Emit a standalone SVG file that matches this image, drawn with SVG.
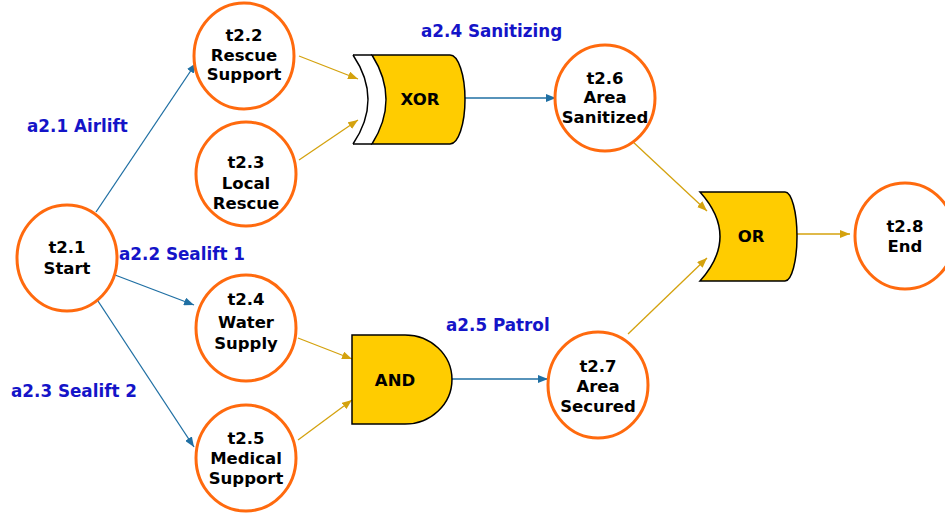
<svg xmlns="http://www.w3.org/2000/svg" width="945" height="515" viewBox="0 0 945 515">
<style>
.node ellipse{fill:#fff;stroke:#FF6A0E;stroke-width:3}
.nt{font-family:"DejaVu Sans",Verdana,sans-serif;font-weight:bold;font-size:16.5px;fill:#000;text-anchor:middle}
.lbl{font-family:"DejaVu Sans",Verdana,sans-serif;font-weight:bold;font-size:16.8px;fill:#1414C8}
.gate path{fill:#FFCC00;stroke:#000;stroke-width:1.5}
.blue{stroke:#1F6FA3;stroke-width:1.3;fill:none;marker-end:url(#ab)}
.gold{stroke:#D4A20E;stroke-width:1.3;fill:none;marker-end:url(#ag)}
</style>
<defs>
<marker id="ab" markerUnits="userSpaceOnUse" markerWidth="11" markerHeight="8" refX="10" refY="4" orient="auto"><path d="M0,0 L10,4 L0,8 z" fill="#1F6FA3"/></marker>
<marker id="ag" markerUnits="userSpaceOnUse" markerWidth="11" markerHeight="8" refX="10" refY="4" orient="auto"><path d="M0,0 L10,4 L0,8 z" fill="#D4A20E"/></marker>
</defs>
<rect width="945" height="515" fill="#fff"/>
<g id="connectors">
<path class="blue" d="M96 212 L196 63"/>
<path class="blue" d="M115 275 L194 305"/>
<path class="blue" d="M96 298 L194 447"/>
<path class="blue" d="M465 98 L556 98"/>
<path class="blue" d="M452 379 L548 379"/>
<path class="gold" d="M299 56 L358 79"/>
<path class="gold" d="M299 160 L358 120"/>
<path class="gold" d="M298 338 L352 359"/>
<path class="gold" d="M298 440 L352 400"/>
<path class="gold" d="M632 141 L707 211"/>
<path class="gold" d="M628 334 L707 258"/>
<path class="gold" d="M797 234 L850 234"/>
</g>
<g id="labels">
<text class="lbl" x="27" y="132">a2.1 Airlift</text>
<text class="lbl" x="119" y="260">a2.2 Sealift 1</text>
<text class="lbl" x="11" y="397">a2.3 Sealift 2</text>
<text class="lbl" x="421" y="37">a2.4 Sanitizing</text>
<text class="lbl" x="446" y="331">a2.5 Patrol</text>
</g>
<g id="t2.1" class="node"><ellipse cx="67" cy="258" rx="50" ry="53"/><text class="nt" x="67" y="253">t2.1</text><text class="nt" x="67" y="274">Start</text></g>
<g id="t2.2" class="node"><ellipse cx="244" cy="56" rx="50" ry="53"/><text class="nt" x="244" y="41">t2.2</text><text class="nt" x="244" y="61">Rescue</text><text class="nt" x="244" y="80">Support</text></g>
<g id="t2.3" class="node"><ellipse cx="246" cy="174" rx="50" ry="52"/><text class="nt" x="246" y="168">t2.3</text><text class="nt" x="246" y="189">Local</text><text class="nt" x="246" y="209">Rescue</text></g>
<g id="t2.4" class="node"><ellipse cx="246" cy="328" rx="50" ry="53"/><text class="nt" x="246" y="305">t2.4</text><text class="nt" x="246" y="328">Water</text><text class="nt" x="246" y="349">Supply</text></g>
<g id="t2.5" class="node"><ellipse cx="246" cy="458" rx="50" ry="53"/><text class="nt" x="246" y="444">t2.5</text><text class="nt" x="246" y="464">Medical</text><text class="nt" x="246" y="484">Support</text></g>
<g id="t2.6" class="node"><ellipse cx="605" cy="98" rx="50" ry="53"/><text class="nt" x="605" y="84">t2.6</text><text class="nt" x="605" y="103">Area</text><text class="nt" x="605" y="123">Sanitized</text></g>
<g id="t2.7" class="node"><ellipse cx="598" cy="385" rx="50" ry="53"/><text class="nt" x="598" y="372">t2.7</text><text class="nt" x="598" y="392">Area</text><text class="nt" x="598" y="412">Secured</text></g>
<g id="t2.8" class="node"><ellipse cx="905" cy="236" rx="50" ry="53"/><text class="nt" x="905" y="232">t2.8</text><text class="nt" x="905" y="252">End</text></g>
<g id="xor" class="gate">
<path d="M353 55 Q383 99.5 353 144" style="fill:none"/>
<path d="M372 55 H450 A15 44.5 0 0 1 450 144 H372 Q400 99.5 372 55 Z"/>
<path d="M353 55 H372 M353 144 H372" style="fill:none"/>
<text class="nt" x="420" y="105">XOR</text>
</g>
<g id="and" class="gate">
<path d="M352 335 H405 A47 44.5 0 0 1 405 424 H352 Z"/>
<text class="nt" x="395" y="386">AND</text>
</g>
<g id="or" class="gate">
<path d="M700 192 H785 A12 44.5 0 0 1 785 281 H700 Q740 236.5 700 192 Z"/>
<text class="nt" x="751" y="242">OR</text>
</g>
</svg>
